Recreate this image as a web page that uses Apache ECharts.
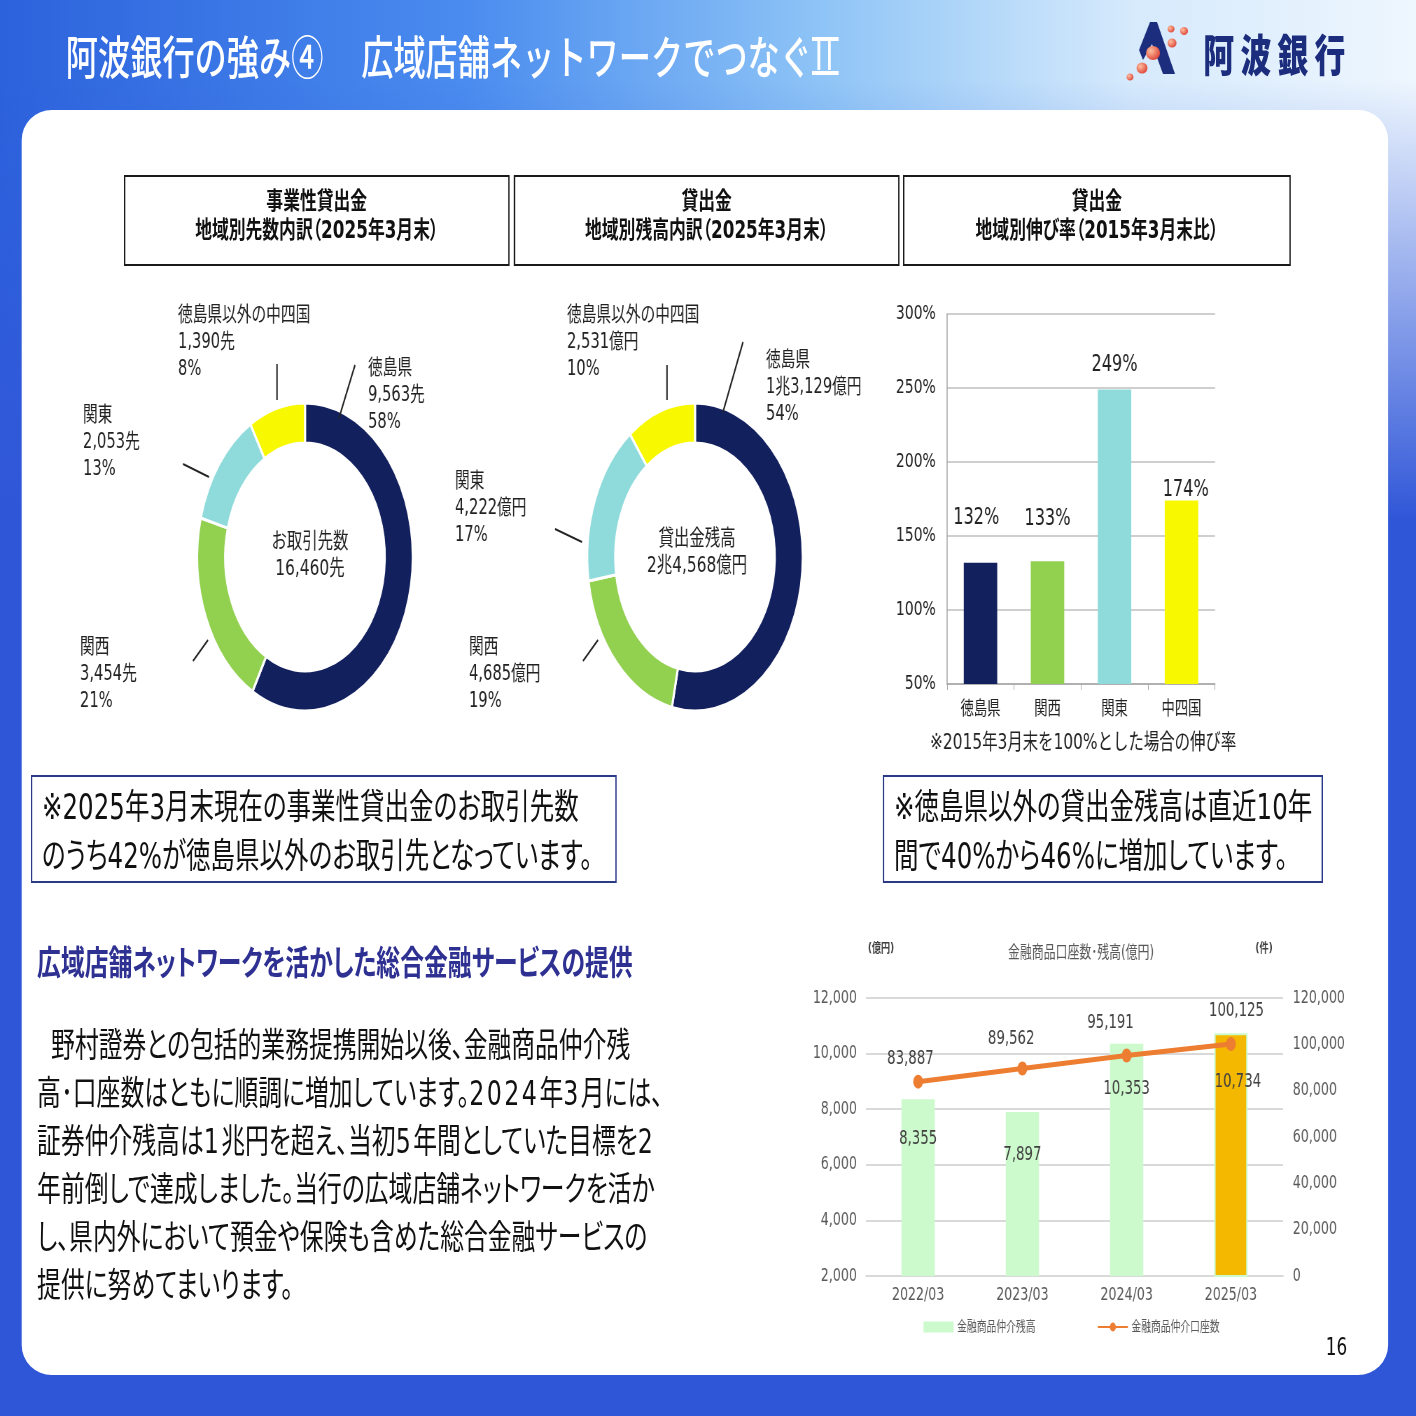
<!DOCTYPE html>
<html>
<head>
<meta charset="utf-8">
<script src="https://cdn.jsdelivr.net/npm/echarts@6/dist/echarts.min.js"></script>
<style>
html,body{margin:0;padding:0;width:1416px;height:1416px;overflow:hidden;background:#3258d8;}
/* the slide is laid out 2023px wide and squeezed to 1416px, like the reference */
#page{position:absolute;left:0;top:0;width:2023px;height:1416px;transform:scaleX(0.7);transform-origin:0 0;
  font-family:"DejaVu Sans","Noto Sans CJK JP",sans-serif;
  background:
    linear-gradient(180deg,rgba(48,86,216,0) 0px,rgba(48,86,216,0) 80px,rgba(48,86,216,1) 520px),
    linear-gradient(90deg,#2c62dc 0%,#4a8cef 33%,#8ec4f6 58%,#d6eafc 80%,#eef6fe 100%);}
.panel{position:absolute;left:31px;top:110px;width:1952px;height:1265px;background:#fff;border-radius:43px/30px;}
#chart{position:absolute;left:0;top:0;width:2023px;height:1416px;z-index:1;}
.t{position:absolute;z-index:2;white-space:nowrap;color:#111;font-feature-settings:"palt";}
.title{left:94px;top:28px;font-size:46px;line-height:52px;color:#fff;font-weight:500;font-family:"Noto Sans CJK JP";font-feature-settings:normal;}
.title .gap{display:inline-block;width:54px;}
.title .roman{display:inline-block;height:30px;line-height:30px;font-size:40px;border-top:4px solid #fff;border-bottom:4px solid #fff;padding:0 4px;letter-spacing:3px;vertical-align:4px;font-family:"DejaVu Sans";}
.logo{left:1719px;top:28px;font-size:44px;line-height:50px;color:#1c2d7d;font-weight:900;letter-spacing:9px;font-family:"Noto Sans CJK JP";}
.hbox{top:175px;height:91px;border:2px solid #1a1a1a;box-sizing:border-box;text-align:center;font-size:24px;font-weight:700;line-height:29px;padding-top:10px;}
.nbox{top:775px;height:108px;border:2px solid #2b3a87;box-sizing:border-box;font-size:35px;line-height:49px;padding-top:6px;padding-left:14px;}
.head{left:53px;top:943px;font-size:34px;line-height:40px;font-weight:700;color:#2e3192;}
.para{left:53px;top:1021px;font-size:34px;line-height:48px;}
.para .ind{display:inline-block;width:20px;}
.d{letter-spacing:0.1em;}
.pno{left:1894px;top:1332px;font-size:24px;line-height:30px;font-weight:500;}
</style>
</head>
<body>
<div id="page">
  <div class="panel"></div>
  <div id="chart"></div>
  <div class="t title">阿波銀行の強み④<span class="gap"></span>広域店舗ネットワークでつなぐ<span class="roman">II</span></div>
  <div class="t logo">阿波銀行</div>
  <div class="t hbox" style="left:177px;width:551px;">事業性貸出金<br>地域別先数内訳（2025年3月末）</div>
  <div class="t hbox" style="left:734px;width:551px;">貸出金<br>地域別残高内訳（2025年3月末）</div>
  <div class="t hbox" style="left:1290px;width:554px;">貸出金<br>地域別伸び率（2015年3月末比）</div>
  <div class="t nbox" style="left:44px;width:837px;">※2025年3月末現在の事業性貸出金のお取引先数<br>のうち42%が徳島県以外のお取引先となっています。</div>
  <div class="t nbox" style="left:1261px;width:629px;">※徳島県以外の貸出金残高は直近10年<br>間で40%から46%に増加しています。</div>
  <div class="t head">広域店舗ネットワークを活かした総合金融サービスの提供</div>
  <div class="t para"><span class="ind"></span>野村證券との包括的業務提携開始以後、金融商品仲介残<br>高･口座数はともに順調に増加しています。<span class="d">2024</span>年<span class="d">3</span>月には、<br>証券仲介残高は<span class="d">1</span>兆円を超え、当初<span class="d">5</span>年間としていた目標を<span class="d">2</span><br>年前倒しで達成しました。当行の広域店舗ネットワークを活か<br>し、県内外において預金や保険も含めた総合金融サービスの<br>提供に努めてまいります。</div>
  <div class="t pno">16</div>
</div>
<script>
// 地域別（徳島県・関西・関東・徳島県以外の中四国）
var regionNames = ['徳島県', '関西', '関東', '徳島県以外の中四国'];
var regionColors = ['#13205e', '#92d050', '#8fdbdb', '#f8f800'];

// 事業性貸出金 お取引先数（先）
var custCounts = [9563, 3454, 2053, 1390];
var custPct = [58, 21, 13, 8];
var custTotal = 16460;

// 貸出金残高（億円）
var loanAmounts = [13129, 4685, 4222, 2531];
var loanPct = [54, 19, 17, 10];
var loanTotal = 24568;

// 伸び率（2015年3月末=100%）
var growthCats = ['徳島県', '関西', '関東', '中四国'];
var growthRates = [132, 133, 249, 174];

// 金融商品仲介
var brokerYears = ['2022/03', '2023/03', '2024/03', '2025/03'];
var brokerBalance = [8355, 7897, 10353, 10734];
var brokerAccounts = [83887, 89562, 95191, 100125];

var FONT = '"DejaVu Sans", "Noto Sans CJK JP", sans-serif';
var SX = 0.7;
function px(x) { return x / SX; }   // 画像上のx → ページ内のx
function num(v) { return v.toLocaleString('en-US'); }
function oku(v) {
    if (v >= 10000) return Math.floor(v / 10000) + '兆' + num(v % 10000) + '億円';
    return num(v) + '億円';
}

// ラベル位置（画像座標）と引出線
var custLabelPos = [[368, 355], [80, 634], [83, 402], [178, 302]];
var custLines = [[355, 365, 339, 418], [193, 661, 208, 640], [183, 464, 209, 477], [277, 364, 277, 400]];
var loanLabelPos = [[766, 347], [469, 634], [455, 468], [567, 302]];
var loanLines = [[743, 342, 723, 412], [583, 661, 598, 640], [555, 529, 582, 542], [667, 365, 667, 400]];

var graphic = [];
function addText(txt, x, y, size, color, align, va, weight) {
    graphic.push({
        type: 'text', x: x, y: y, z: 10, silent: true,
        style: {
            text: txt, fontSize: size, fontFamily: FONT, fill: color || '#222',
            align: align || 'left', verticalAlign: va || 'top', lineHeight: 27,
            fontWeight: weight || 'normal'
        }
    });
}
function addLine(l) {
    graphic.push({
        type: 'line', silent: true, z: 10,
        shape: { x1: px(l[0]), y1: l[1], x2: px(l[2]), y2: l[3] },
        style: { stroke: '#222', lineWidth: 2 }
    });
}

regionNames.forEach(function (n, i) {
    addText(n + '\n' + num(custCounts[i]) + '先\n' + custPct[i] + '%', px(custLabelPos[i][0]), custLabelPos[i][1], 21);
    addLine(custLines[i]);
    addText(n + '\n' + oku(loanAmounts[i]) + '\n' + loanPct[i] + '%', px(loanLabelPos[i][0]), loanLabelPos[i][1], 21);
    addLine(loanLines[i]);
});
addText('お取引先数\n' + num(custTotal) + '先', px(310), 556, 22, '#222', 'center', 'middle');
addText('貸出金残高\n' + oku(loanTotal), px(697), 553, 22, '#222', 'center', 'middle');
addText('※2015年3月末を100%とした場合の伸び率', px(930), 743, 22, '#222', 'left', 'middle');
addText('金融商品口座数･残高(億円)', px(1081), 954, 17, '#595959', 'center', 'middle');
addText('(億円)', px(881), 949, 13, '#404040', 'center', 'middle', 'bold');
addText('(件)', px(1264), 949, 13, '#404040', 'center', 'middle', 'bold');

// ロゴ
graphic.push({
    type: 'polygon', silent: true,
    shape: { points: [[px(1150), 22], [px(1157), 22], [px(1175), 74], [px(1163), 74], [px(1152), 44], [px(1143), 60], [px(1139), 50]] },
    style: { fill: '#1c2d7d' }
});
[[1171, 29, 3.5], [1184, 31, 4], [1172, 43, 4.5], [1153, 53, 7], [1142, 68, 5.5], [1130, 77, 3.5]].forEach(function (d) {
    graphic.push({
        type: 'circle', silent: true, x: px(d[0]), y: d[1], scaleX: 1 / SX,
        shape: { cx: 0, cy: 0, r: d[2] },
        style: { fill: new echarts.graphic.RadialGradient(0.35, 0.35, 0.8, [{ offset: 0, color: '#ffc0a0' }, { offset: 1, color: '#d9342a' }]) }
    });
});

function pieData(values) {
    return values.map(function (v, i) {
        return { name: regionNames[i], value: v, itemStyle: { color: regionColors[i] } };
    });
}

var growthOffsets = [[-6, -28], [0, -26], [0, -8], [6, 6]];
var balanceOffsets = [[0, 2], [0, 5], [0, 8], [10, 11]];
var accountOffsets = [[-11, 4], [-16, -3], [-23, -6], [8, -6]];

var chart = echarts.init(document.getElementById('chart'));
var option = {
    animation: false,
    textStyle: { fontFamily: FONT },
    graphic: graphic,
    legend: {
        data: [{ name: '金融商品仲介残高', icon: 'rect' }, { name: '金融商品仲介口座数' }],
        left: px(920), top: 1315,
        itemWidth: 43, itemHeight: 11, itemGap: 88,
        textStyle: { fontSize: 14, color: '#595959' }
    },
    grid: [
        { left: px(947), top: 314, width: px(1215) - px(947), height: 370 },
        { left: px(866), top: 998, width: px(1283) - px(866), height: 278 }
    ],
    xAxis: [
        {
            gridIndex: 0, type: 'category', data: growthCats,
            axisLine: { lineStyle: { color: '#a6a6a6', width: 1.5 } },
            axisTick: { show: true, length: 6, lineStyle: { color: '#a6a6a6' } },
            axisLabel: { fontSize: 19, color: '#222', margin: 17 }
        },
        {
            gridIndex: 1, type: 'category', data: brokerYears,
            axisLine: { lineStyle: { color: '#d9d9d9', width: 2 } },
            axisTick: { show: false },
            axisLabel: { fontSize: 18, color: '#595959', margin: 10 }
        }
    ],
    yAxis: [
        {
            gridIndex: 0, type: 'value', min: 50, max: 300, interval: 50,
            axisLine: { show: true, lineStyle: { color: '#a6a6a6', width: 1.5 } },
            splitLine: { lineStyle: { color: '#bfbfbf', width: 1.5 } },
            axisLabel: { formatter: '{value}%', fontSize: 20, color: '#222', margin: 16, padding: [4, 0, 0, 0] }
        },
        {
            gridIndex: 1, type: 'value', min: 2000, max: 12000, interval: 2000,
            splitLine: { lineStyle: { color: '#d9d9d9', width: 2 } },
            axisLabel: { formatter: num, fontSize: 18, color: '#595959', margin: 13, padding: [4, 0, 0, 0] }
        },
        {
            gridIndex: 1, type: 'value', position: 'right', min: 0, max: 120000, interval: 20000,
            splitLine: { show: false },
            axisLabel: { formatter: num, fontSize: 18, color: '#595959', margin: 14, padding: [4, 0, 0, 0] }
        }
    ],
    series: [
        {
            type: 'pie', silent: true, center: [px(305), 557], radius: [114, 154],
            startAngle: 90, clockwise: true,
            label: { show: false }, labelLine: { show: false },
            itemStyle: { borderColor: '#fff', borderWidth: 3 },
            data: pieData(custCounts)
        },
        {
            type: 'pie', silent: true, center: [px(695), 557], radius: [114, 154],
            startAngle: 90, clockwise: true,
            label: { show: false }, labelLine: { show: false },
            itemStyle: { borderColor: '#fff', borderWidth: 3 },
            data: pieData(loanAmounts)
        },
        {
            type: 'bar', xAxisIndex: 0, yAxisIndex: 0, barWidth: '50%',
            label: { show: true, position: 'top', formatter: '{c}%', fontSize: 23, color: '#222' },
            data: growthRates.map(function (v, i) {
                return { value: v, itemStyle: { color: regionColors[i] }, label: { offset: growthOffsets[i] } };
            })
        },
        {
            name: '金融商品仲介残高', type: 'bar', xAxisIndex: 1, yAxisIndex: 1, barWidth: '32%',
            itemStyle: { color: '#ccfacc' },
            label: {
                show: true, position: 'insideTop', distance: 28, fontSize: 19, color: '#404040',
                formatter: function (p) { return num(p.value); }
            },
            data: brokerBalance.map(function (v, i) {
                var d = { value: v, label: { offset: balanceOffsets[i] } };
                if (i === brokerBalance.length - 1) d.itemStyle = { color: '#f5b800', borderColor: '#ccfacc', borderWidth: 2 };
                return d;
            })
        },
        {
            name: '金融商品仲介口座数', type: 'line', xAxisIndex: 1, yAxisIndex: 2,
            color: '#ed7d31', lineStyle: { width: 5, color: '#ed7d31' },
            symbol: 'circle', symbolSize: 14, itemStyle: { color: '#ed7d31' },
            label: {
                show: true, position: 'top', distance: 10, fontSize: 19, color: '#404040',
                formatter: function (p) { return num(p.value); }
            },
            data: brokerAccounts.map(function (v, i) {
                return { value: v, label: { offset: accountOffsets[i] } };
            })
        }
    ]
};
chart.setOption(option);
</script>
</body>
</html>
